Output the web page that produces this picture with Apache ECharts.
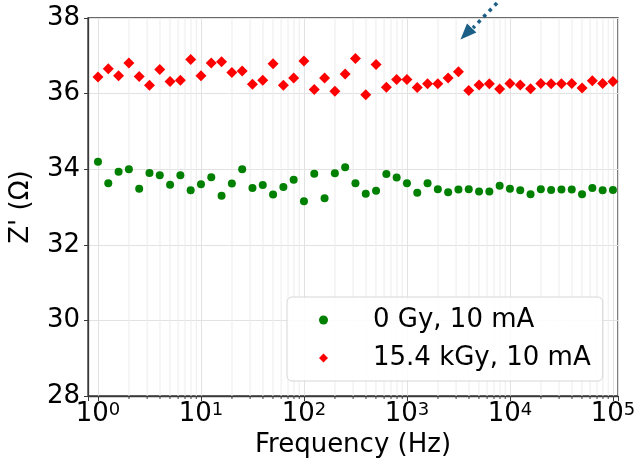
<!DOCTYPE html>
<html>
<head>
<meta charset="utf-8">
<script src="https://cdn.jsdelivr.net/npm/echarts@6/dist/echarts.min.js"></script>
<style>
  html, body { margin: 0; padding: 0; background: #fff; }
  #chart { width: 640px; height: 463px; }
</style>
</head>
<body>
<div id="chart"></div>
<script>
// frequencies (Hz), 10 points per decade
var freq = [
  1, 1.259, 1.585, 1.995, 2.512, 3.162, 3.981, 5.012, 6.31, 7.943,
  10, 12.59, 15.85, 19.95, 25.12, 31.62, 39.81, 50.12, 63.1, 79.43,
  100, 125.9, 158.5, 199.5, 251.2, 316.2, 398.1, 501.2, 631, 794.3,
  1000, 1259, 1585, 1995, 2512, 3162, 3981, 5012, 6310, 7943,
  10000, 12590, 15850, 19950, 25120, 31620, 39810, 50120, 63100, 79430,
  100000
];

// Z' (Ohm), 0 Gy, 10 mA
var zGreen = [
  34.20, 33.63, 33.93, 34.00, 33.48, 33.90, 33.84, 33.59, 33.84, 33.44,
  33.60, 33.79, 33.30, 33.62, 34.00, 33.50, 33.58, 33.33, 33.53, 33.72,
  33.15, 33.88, 33.23, 33.89, 34.05, 33.63, 33.35, 33.43, 33.87, 33.78,
  33.63, 33.38, 33.63, 33.47, 33.39, 33.46, 33.47, 33.41, 33.41, 33.56,
  33.48, 33.44, 33.34, 33.47, 33.45, 33.46, 33.46, 33.34, 33.50, 33.44,
  33.45
];

// Z' (Ohm), 15.4 kGy, 10 mA
var zRed = [
  36.44, 36.66, 36.47, 36.81, 36.45, 36.22, 36.64, 36.32, 36.35, 36.90,
  36.47, 36.81, 36.84, 36.56, 36.60, 36.25, 36.35, 36.79, 36.22, 36.41,
  36.86, 36.11, 36.41, 36.06, 36.52, 36.93, 35.97, 36.77, 36.17, 36.37,
  36.37, 36.16, 36.26, 36.26, 36.41, 36.58, 36.08, 36.23, 36.26, 36.12,
  36.27, 36.23, 36.13, 36.27, 36.26, 36.26, 36.27, 36.15, 36.34, 36.27,
  36.32
];

// minor log grid (2..9 of every decade)
var minorGrid = [
  2, 3, 4, 5, 6, 7, 8, 9,
  20, 30, 40, 50, 60, 70, 80, 90,
  200, 300, 400, 500, 600, 700, 800, 900,
  2000, 3000, 4000, 5000, 6000, 7000, 8000, 9000,
  20000, 30000, 40000, 50000, 60000, 70000, 80000, 90000
];

var seriesNames = ['0 Gy, 10 mA', '15.4 kGy, 10 mA'];

function pairs(xs, ys) {
  return xs.map(function (x, i) { return [x, ys[i]]; });
}

var chart = echarts.init(document.getElementById('chart'));
var font = 'DejaVu Sans';

chart.setOption({
  animation: false,
  backgroundColor: '#fff',
  textStyle: { fontFamily: font },
  grid: {
    left: 88, right: 22, top: 18, bottom: 67,
    show: true, borderColor: '#3a3a3a', borderWidth: 1.3
  },
  legend: {
    data: [
      { name: seriesNames[0], icon: 'circle', itemStyle: { opacity: 1 } },
      { name: seriesNames[1], icon: 'diamond', itemStyle: { opacity: 1 } }
    ],
    orient: 'vertical',
    left: 287, top: 297,
    padding: [8, 12, 8, 32],
    itemWidth: 9, itemHeight: 9, itemGap: 8,
    backgroundColor: 'rgba(255,255,255,0.9)',
    borderColor: '#d6d6d6', borderWidth: 1, borderRadius: 5,
    textStyle: { fontFamily: font, fontSize: 26, color: '#000', lineHeight: 30, padding: [0, 0, 0, 40] }
  },
  xAxis: {
    type: 'log',
    logBase: 10,
    min: 0.8, max: 112000,
    name: 'Frequency (Hz)',
    nameLocation: 'middle',
    nameGap: 35,
    nameTextStyle: { fontFamily: font, fontSize: 26, color: '#000' },
    axisLine: { lineStyle: { color: '#3a3a3a', width: 1.3 } },
    axisTick: { length: 5, lineStyle: { color: '#3a3a3a' } },
    axisLabel: {
      margin: 5,
      formatter: function (v) {
        var p = Math.log10(v);
        if (Math.abs(p - Math.round(p)) > 1e-6) return '';
        return '{b|10}{s|' + Math.round(p) + '}';
      },
      rich: {
        b: { fontFamily: font, fontSize: 26, color: '#000', verticalAlign: 'bottom' },
        s: { fontFamily: font, fontSize: 18, color: '#000', verticalAlign: 'top' }
      }
    },
    splitLine: { show: true, lineStyle: { color: '#e2e2e2', width: 1 } }
  },
  yAxis: {
    type: 'value',
    min: 28, max: 38, interval: 2,
    name: "Z' (Ω)",
    nameLocation: 'middle',
    nameGap: 54,
    nameTextStyle: { fontFamily: font, fontSize: 26, color: '#000' },
    axisLine: { show: true, lineStyle: { color: '#3a3a3a', width: 1.3 } },
    axisTick: { show: true, length: 4, lineStyle: { color: '#3a3a3a' } },
    axisLabel: { margin: 8, fontFamily: font, fontSize: 26, color: '#000' },
    splitLine: { show: true, lineStyle: { color: '#e2e2e2', width: 1 } }
  },
  series: [
    {
      type: 'custom',
      name: 'minor',
      silent: true,
      clip: false,
      data: minorGrid.map(function (v) { return [v]; }),
      encode: { x: 0 },
      renderItem: function (params, api) {
        var cs = params.coordSys;
        var px = api.coord([api.value(0), 30])[0];
        var bottom = cs.y + cs.height;
        return {
          type: 'group',
          children: [
            { type: 'line', shape: { x1: px, y1: cs.y, x2: px, y2: bottom },
              style: { stroke: '#ececec', lineWidth: 1 } },
            { type: 'line', shape: { x1: px, y1: bottom, x2: px, y2: bottom + 3 },
              style: { stroke: '#3a3a3a', lineWidth: 1 } }
          ]
        };
      }
    },
    {
      type: 'scatter',
      name: seriesNames[0],
      symbol: 'circle',
      symbolSize: 8,
      itemStyle: { color: '#008000', opacity: 1 },
      data: pairs(freq, zGreen)
    },
    {
      type: 'scatter',
      name: seriesNames[1],
      symbol: 'diamond',
      symbolSize: 11,
      itemStyle: { color: '#ff0000', opacity: 1 },
      data: pairs(freq, zRed)
    }
  ],
  graphic: [
    {
      type: 'line',
      shape: { x1: 497, y1: 3, x2: 473, y2: 28 },
      style: { stroke: '#1b5e86', lineWidth: 3.5, lineDash: [3.5, 4.5] },
      z: 10
    },
    {
      type: 'polygon',
      shape: { points: [[460.5, 39.5], [467, 23.5], [476.4, 32.5]] },
      style: { fill: '#1b5e86' },
      z: 10
    }
  ]
});
</script>
</body>
</html>
